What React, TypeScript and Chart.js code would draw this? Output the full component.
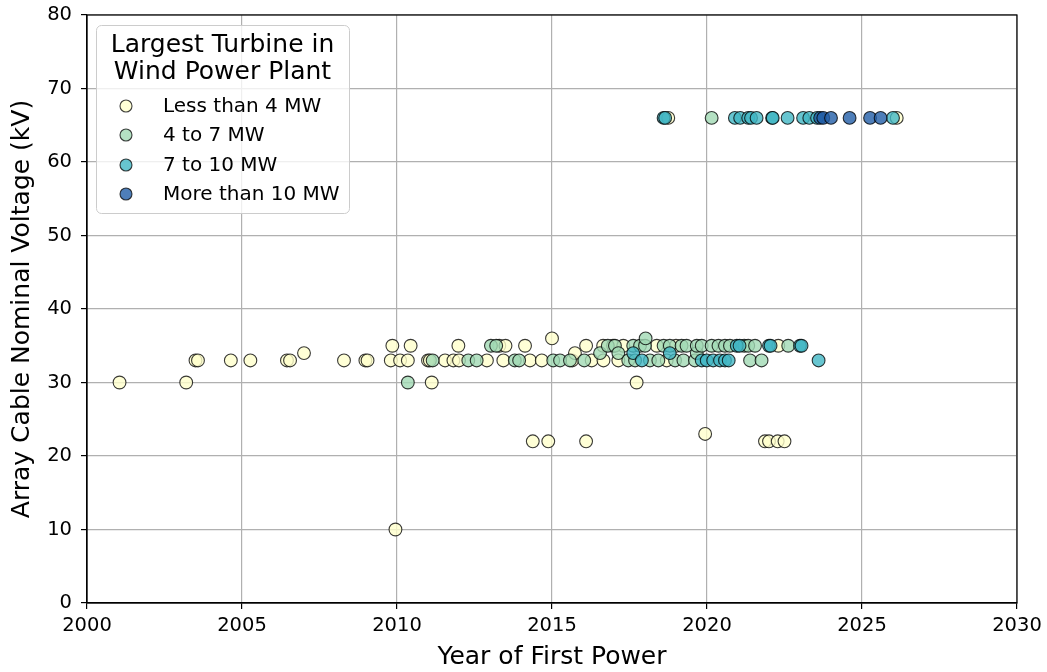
import { useEffect, useRef } from "react";
import { Chart, registerables } from "chart.js";

Chart.register(...registerables);

const FONT = "'DejaVu Sans', 'Liberation Sans', sans-serif";

const X_TITLE = "Year of First Power";
const Y_TITLE = "Array Cable Nominal Voltage (kV)";
const LEGEND_TITLE = ["Largest Turbine in", "Wind Power Plant"];
const CATEGORIES = ["Less than 4 MW", "4 to 7 MW", "7 to 10 MW", "More than 10 MW"];
const FILLS = [
  "rgba(255,255,204,0.8)",
  "rgba(161,218,180,0.8)",
  "rgba(65,182,196,0.8)",
  "rgba(34,94,168,0.8)",
];

// Less than 4 MW
const lt4Years = [
  2001.05, 2003.2, 2003.5, 2003.58, 2004.64, 2005.27, 2006.45, 2006.55, 2007.0, 2008.29,
  2008.98, 2009.05, 2009.8, 2009.85, 2009.95, 2010.1, 2010.35, 2010.44, 2011.0, 2011.06,
  2011.12, 2011.55, 2011.82, 2011.98, 2012.0, 2012.9, 2013.3, 2013.43, 2013.5, 2014.13,
  2014.29, 2014.38, 2014.67, 2014.88, 2015.0, 2015.65, 2015.74, 2016.1, 2016.1, 2016.28,
  2016.66, 2016.65, 2016.97, 2017.14, 2017.3, 2017.73, 2018.38, 2018.7, 2019.0, 2019.94,
  2021.87, 2022.0, 2022.28, 2022.5, 2022.3, 2018.75, 2026.12,
];
const lt4Kv = [
  30, 30, 33, 33, 33, 33, 33, 33, 34, 33,
  33, 33, 33, 35, 10, 33, 33, 35, 33, 33,
  30, 33, 33, 35, 33, 33, 35, 33, 35, 35,
  33, 22, 33, 22, 36, 33, 34, 35, 22, 33,
  33, 35, 35, 33, 35, 30, 35, 33, 35, 23,
  22, 22, 22, 22, 35, 66, 66,
];

// 4 to 7 MW
const mid1Years = [
  2010.35, 2011.15, 2012.3, 2012.57, 2013.03, 2013.2, 2013.8, 2013.94, 2015.04, 2015.26,
  2015.58, 2016.04, 2016.55, 2016.8, 2017.03, 2017.14, 2017.46, 2017.62, 2017.68, 2017.84,
  2018.0, 2018.02, 2018.16, 2018.43, 2018.6, 2018.8, 2018.97, 2019.18, 2019.24, 2019.34,
  2019.61, 2019.67, 2019.67, 2019.83, 2020.15, 2020.37, 2020.58, 2020.74, 2021.2, 2021.33,
  2021.39, 2021.55, 2021.76, 2022.62, 2020.15,
];
const mid1Kv = [
  30, 33, 33, 33, 35, 35, 33, 33, 33, 33,
  33, 33, 34, 35, 35, 34, 33, 35, 33, 35,
  35, 36, 33, 33, 35, 35, 33, 35, 33, 35,
  33, 34, 35, 35, 35, 35, 35, 35, 35, 35,
  33, 35, 33, 35, 66,
];

// 7 to 10 MW
const mid2Years = [
  2017.62, 2017.9, 2018.8, 2019.83, 2019.99, 2020.2, 2020.42, 2020.58, 2020.7, 2020.96,
  2021.05, 2022.0, 2022.05, 2023.0, 2023.05, 2023.6, 2018.6, 2018.65, 2020.9, 2021.07,
  2021.33, 2021.42, 2021.6, 2022.1, 2022.12, 2022.6, 2023.1, 2023.3, 2023.55, 2026.0,
];
const mid2Kv = [
  34, 33, 34, 33, 33, 33, 33, 33, 33, 35,
  35, 35, 35, 35, 35, 33, 66, 66, 66, 66,
  66, 66, 66, 66, 66, 66, 66, 66, 66, 66,
];

// More than 10 MW
const gt10Years = [2023.65, 2023.75, 2024.0, 2024.6, 2025.26, 2025.6];
const gt10Kv = [66, 66, 66, 66, 66, 66];

const X_TICKS = [2000, 2005, 2010, 2015, 2020, 2025, 2030];
const Y_TICKS = [0, 10, 20, 30, 40, 50, 60, 70, 80];

const toPoints = (xs: number[], ys: number[]) => xs.map((x, i) => ({ x, y: ys[i] }));

const framePlugin = {
  id: "frame",
  afterDatasetsDraw(chart: any) {
    const { ctx, chartArea } = chart;
    ctx.save();
    ctx.strokeStyle = "#000";
    ctx.lineWidth = 1.2;
    ctx.strokeRect(chartArea.left, chartArea.top, chartArea.right - chartArea.left, chartArea.bottom - chartArea.top);
    ctx.restore();
  },
};

const legendPlugin = {
  id: "boxLegend",
  afterDraw(chart: any) {
    const { ctx, chartArea } = chart;
    const left = chartArea.left + 9;
    const top = chartArea.top + 10;
    const w = 253;
    const h = 188;
    ctx.save();
    ctx.beginPath();
    if ((ctx as any).roundRect) (ctx as any).roundRect(left + 0.5, top + 0.5, w, h, 5);
    else ctx.rect(left + 0.5, top + 0.5, w, h);
    ctx.fillStyle = "rgba(255,255,255,0.8)";
    ctx.fill();
    ctx.strokeStyle = "#cccccc";
    ctx.lineWidth = 1;
    ctx.stroke();

    ctx.fillStyle = "#000";
    ctx.textAlign = "center";
    ctx.textBaseline = "middle";
    ctx.font = `25px ${FONT}`;
    LEGEND_TITLE.forEach((t, i) => ctx.fillText(t, left + w / 2, top + 20 + i * 27));

    const rows = [81, 110, 140, 169];
    ctx.textAlign = "left";
    ctx.font = `20px ${FONT}`;
    chart.data.datasets.forEach((ds: any, i: number) => {
      const cy = top + rows[i];
      ctx.beginPath();
      ctx.arc(left + 30, cy, 6, 0, Math.PI * 2);
      ctx.fillStyle = ds.backgroundColor;
      ctx.fill();
      ctx.strokeStyle = "rgba(0,0,0,0.75)";
      ctx.lineWidth = 1.1;
      ctx.stroke();
      ctx.fillStyle = "#000";
      ctx.fillText(ds.label, left + 67, cy + 1);
    });
    ctx.restore();
  },
};

export default function App() {
  const ref = useRef<HTMLCanvasElement>(null);

  useEffect(() => {
    if (!ref.current) return;
    const series = [
      toPoints(lt4Years, lt4Kv),
      toPoints(mid1Years, mid1Kv),
      toPoints(mid2Years, mid2Kv),
      toPoints(gt10Years, gt10Kv),
    ];
    const chart = new Chart(ref.current, {
      type: "scatter",
      data: {
        datasets: series.map((data, i) => ({
          label: CATEGORIES[i],
          data,
          backgroundColor: FILLS[i],
          borderColor: "rgba(0,0,0,0.78)",
          borderWidth: 1.1,
          pointRadius: 6.4,
          pointHoverRadius: 6.4,
          order: 3 - i,
        })),
      },
      options: {
        animation: false,
        responsive: true,
        maintainAspectRatio: false,
        layout: { padding: { top: 15, right: 30, left: 0, bottom: 0 } },
        plugins: { legend: { display: false }, tooltip: { enabled: false } },
        scales: {
          x: {
            type: "linear",
            min: 2000,
            max: 2030,
            afterBuildTicks: (s: any) => {
              s.ticks = X_TICKS.map((v) => ({ value: v }));
            },
            afterFit: (s: any) => {
              s.height = 69;
              s.paddingLeft = 0;
              s.paddingRight = 0;
            },
            ticks: {
              color: "#000",
              font: { family: FONT, size: 19.5 },
              padding: 5,
              maxRotation: 0,
              callback: (v: any) => String(v),
            },
            grid: { color: "#b0b0b0", lineWidth: 1.2, tickColor: "#000", tickLength: 6, tickWidth: 1.2 },
            border: { display: true, color: "#000", width: 1.2 },
            title: {
              display: true,
              text: X_TITLE,
              color: "#000",
              font: { family: FONT, size: 25 },
              padding: { top: 0, bottom: 0 },
            },
          },
          y: {
            type: "linear",
            min: 0,
            max: 80,
            afterBuildTicks: (s: any) => {
              s.ticks = Y_TICKS.map((v) => ({ value: v }));
            },
            afterFit: (s: any) => {
              s.width = 87;
              s.paddingTop = 0;
              s.paddingBottom = 0;
            },
            ticks: {
              color: "#000",
              font: { family: FONT, size: 19.5 },
              padding: 9,
              callback: (v: any) => String(v),
            },
            grid: { color: "#b0b0b0", lineWidth: 1.2, tickColor: "#000", tickLength: 6, tickWidth: 1.2 },
            border: { display: true, color: "#000", width: 1.2 },
            title: {
              display: true,
              text: Y_TITLE,
              color: "#000",
              font: { family: FONT, size: 25 },
              padding: { top: 7, bottom: 0 },
            },
          },
        },
      },
      plugins: [framePlugin, legendPlugin],
    });
    return () => chart.destroy();
  }, []);

  return (
    <div style={{ position: "absolute", left: 0, top: 0, width: 1047, height: 672 }}>
      <canvas ref={ref} />
    </div>
  );
}
